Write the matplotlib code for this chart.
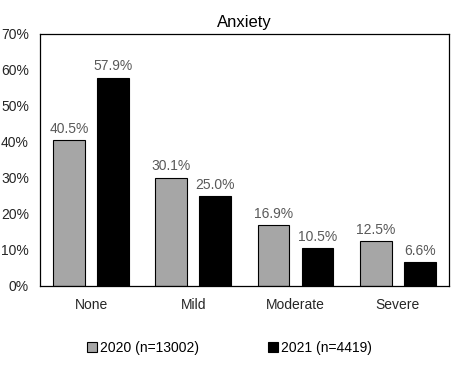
import numpy as np
import matplotlib
matplotlib.use('Agg')
import matplotlib.pyplot as plt
from matplotlib.ticker import PercentFormatter

plt.rcParams['font.family'] = ['Liberation Sans', 'DejaVu Sans']

categories = ['None', 'Mild', 'Moderate', 'Severe']
vals_2020 = [40.5, 30.1, 16.9, 12.5]
vals_2021 = [57.9, 25.0, 10.5, 6.6]
labels = ['2020 (n=13002)', '2021 (n=4419)']

fig = plt.figure(figsize=(4.59, 3.69), dpi=100)
ax = fig.add_axes([0.087, 0.225, 0.891, 0.683])

x = np.arange(len(categories))
w = 0.31
off = 0.215
b1 = ax.bar(x - off, vals_2020, w, color='#a6a6a6', edgecolor='black', linewidth=0.8, label=labels[0])
b2 = ax.bar(x + off, vals_2021, w, color='black', edgecolor='black', linewidth=0.8, label=labels[1])

for bars in (b1, b2):
    for r in bars:
        h = r.get_height()
        ax.text(r.get_x() + r.get_width() / 2, h + 1.2, f'{h:.1f}%',
                ha='center', va='bottom', fontsize=10, color='#595959')

ax.set_xlim(-0.5, 3.5)
ax.set_ylim(0, 70)
ax.set_yticks(range(0, 71, 10))
ax.yaxis.set_major_formatter(PercentFormatter(decimals=0))
ax.set_xticks(x)
ax.set_xticklabels(categories)
ax.tick_params(axis='both', length=0, labelsize=10, colors='#262626')
ax.tick_params(axis='x', pad=9)
ax.tick_params(axis='y', pad=8)
for s in ax.spines.values():
    s.set_linewidth(0.9)

ax.set_title('Anxiety', fontsize=12, pad=5)

fig.legend(handles=[b1, b2], labels=labels, loc='center', bbox_to_anchor=(0.5, 0.057),
           ncol=2, frameon=False, fontsize=10, handlelength=0.7, handleheight=0.7,
           handletextpad=0.2, columnspacing=5.0)

fig.savefig('out.png', dpi=100)
